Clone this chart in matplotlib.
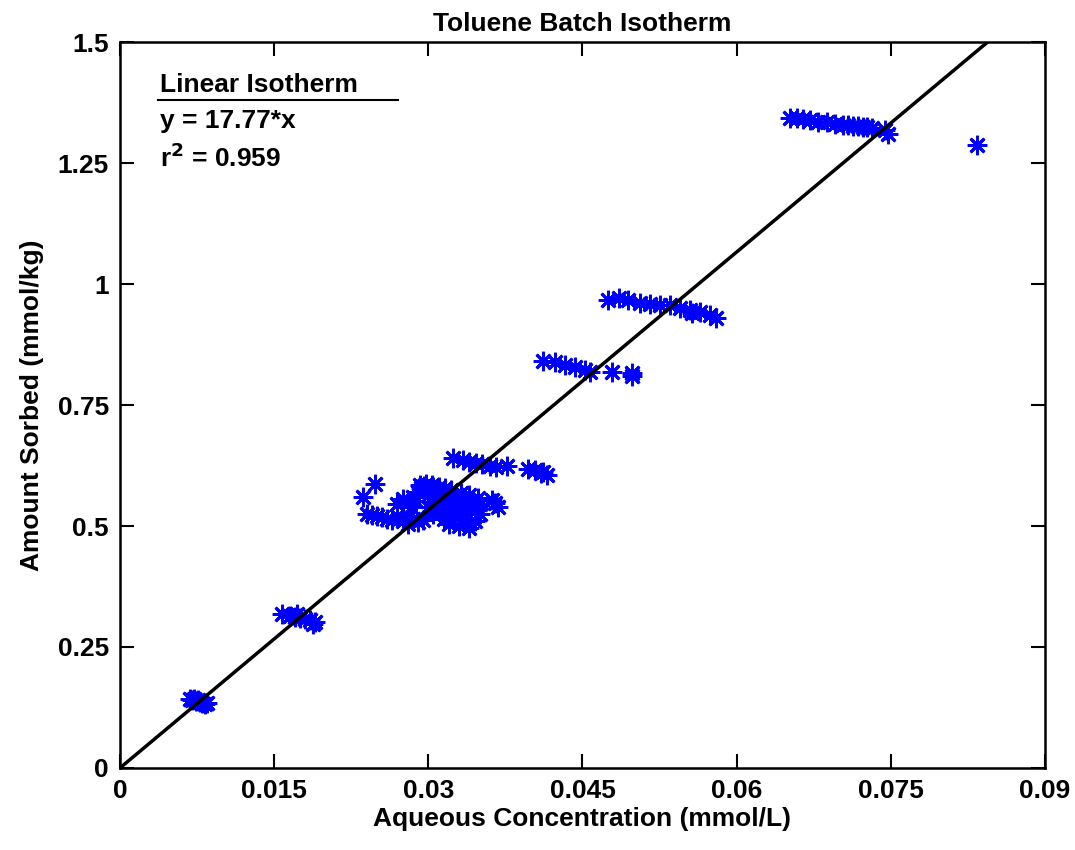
import numpy as np
import matplotlib
matplotlib.use('Agg')
import matplotlib.pyplot as plt

plt.rcParams['font.family'] = ['Liberation Sans', 'DejaVu Sans']
plt.rcParams['font.weight'] = 'bold'

# batch isotherm measurements
aq_conc = [
    0.0068, 0.0070, 0.0072, 0.0074, 0.0076, 0.0078, 0.0080, 0.0083, 0.0085,
    0.0158, 0.0165, 0.0170, 0.0172, 0.0175, 0.0180, 0.0185, 0.0188, 0.0190,
    0.0240, 0.0245, 0.0250, 0.0255, 0.0260, 0.0265, 0.0270, 0.0275, 0.0280,
    0.0285, 0.0290, 0.0295, 0.0236, 0.0248,
    0.0270, 0.0275, 0.0280, 0.0285, 0.0290, 0.0293, 0.0296, 0.0300, 0.0302,
    0.0305, 0.0308, 0.0310, 0.0312, 0.0315, 0.0318, 0.0320, 0.0322, 0.0325,
    0.0328, 0.0330, 0.0332, 0.0335, 0.0338, 0.0340, 0.0342, 0.0345, 0.0348,
    0.0350, 0.0300, 0.0305, 0.0310, 0.0315, 0.0320, 0.0325, 0.0330, 0.0335,
    0.0340, 0.0345, 0.0350, 0.0362, 0.0368, 0.0365,
    0.0292, 0.0298, 0.0304, 0.0310, 0.0316, 0.0288, 0.0306, 0.0314, 0.0283,
    0.0324, 0.0334, 0.0340, 0.0346, 0.0352, 0.0360, 0.0366, 0.0377, 0.0397,
    0.0404, 0.0410, 0.0415, 0.0412,
    0.0412, 0.0423, 0.0433, 0.0443, 0.0452, 0.0457, 0.0479, 0.0498, 0.0498,
    0.0475, 0.0486, 0.0494, 0.0506, 0.0516, 0.0525, 0.0535, 0.0545, 0.0555,
    0.0557, 0.0564, 0.0574, 0.0580,
    0.0652, 0.0659, 0.0665, 0.0671, 0.0679, 0.0688, 0.0696, 0.0703, 0.0708,
    0.0713, 0.0718, 0.0723, 0.0727, 0.0732, 0.0744, 0.0747, 0.0834,
]
sorbed = [
    0.142, 0.140, 0.143, 0.138, 0.141, 0.136, 0.134, 0.132, 0.135,
    0.318, 0.315, 0.312, 0.318, 0.310, 0.308, 0.305, 0.298, 0.302,
    0.525, 0.522, 0.520, 0.518, 0.515, 0.512, 0.520, 0.510, 0.505,
    0.515, 0.508, 0.512, 0.560, 0.587,
    0.545, 0.555, 0.548, 0.560, 0.570, 0.578, 0.582, 0.575, 0.568,
    0.580, 0.560, 0.572, 0.555, 0.548, 0.565, 0.540, 0.575, 0.560,
    0.545, 0.530, 0.568, 0.555, 0.540, 0.565, 0.550, 0.535, 0.558,
    0.545, 0.540, 0.525, 0.530, 0.515, 0.505, 0.520, 0.500, 0.515,
    0.495, 0.510, 0.525, 0.554, 0.539, 0.548,
    0.585, 0.586, 0.584, 0.580, 0.578, 0.552, 0.550, 0.536, 0.540,
    0.640, 0.636, 0.632, 0.630, 0.628, 0.625, 0.622, 0.624, 0.618,
    0.615, 0.610, 0.606, 0.612,
    0.841, 0.839, 0.833, 0.829, 0.822, 0.818, 0.818, 0.810, 0.816,
    0.967, 0.971, 0.967, 0.961, 0.959, 0.957, 0.957, 0.950, 0.946,
    0.940, 0.942, 0.936, 0.930,
    1.343, 1.343, 1.341, 1.339, 1.335, 1.335, 1.331, 1.329, 1.329,
    1.326, 1.326, 1.324, 1.324, 1.322, 1.318, 1.310, 1.287,
]

slope = 17.77
r2 = 0.959
x_ticks = [0, 0.015, 0.03, 0.045, 0.06, 0.075, 0.09]
x_labels = ['0', '0.015', '0.03', '0.045', '0.06', '0.075', '0.09']
y_ticks = [0, 0.25, 0.5, 0.75, 1, 1.25, 1.5]
y_labels = ['0', '0.25', '0.5', '0.75', '1', '1.25', '1.5']

fig = plt.figure(figsize=(10.75, 8.5), dpi=100)
ax = fig.add_axes([0.1116, 0.0965, 0.8605, 0.854])

ax.plot(aq_conc, sorbed, linestyle='none', marker=(8, 2, 0), markersize=14,
        markeredgewidth=2.0, color='#0000ff')

xfit = np.array([0, 0.09])
ax.plot(xfit, slope * xfit, color='black', linewidth=2.5)

ax.set_xlim(0, 0.09)
ax.set_ylim(0, 1.5)
ax.set_xticks(x_ticks)
ax.set_xticklabels(x_labels)
ax.set_yticks(y_ticks)
ax.set_yticklabels(y_labels)
ax.tick_params(direction='in', length=10, width=1.5, top=True, right=True,
               labelsize=19, pad=8)
for s in ax.spines.values():
    s.set_linewidth(1.8)

ax.set_title('Toluene Batch Isotherm', fontsize=19, fontweight='bold', pad=8)
ax.set_xlabel('Aqueous Concentration (mmol/L)', fontsize=19, fontweight='bold', labelpad=3)
ax.set_ylabel('Amount Sorbed (mmol/kg)', fontsize=19, fontweight='bold', labelpad=10)

# fit annotation box
ax.text(0.043, 0.941, 'Linear Isotherm', transform=ax.transAxes,
        fontsize=19, fontweight='bold', va='center')
ax.plot([0.041, 0.301], [0.920, 0.920], transform=ax.transAxes,
        color='black', linewidth=1.5)
ax.text(0.043, 0.891, 'y = %.2f*x' % slope, transform=ax.transAxes,
        fontsize=19, fontweight='bold', va='center')
ax.text(0.043, 0.840, r'r$^\mathbf{2}$ = %.3f' % r2, transform=ax.transAxes,
        fontsize=19, fontweight='bold', va='center')

fig.savefig('out.png', dpi=100)
